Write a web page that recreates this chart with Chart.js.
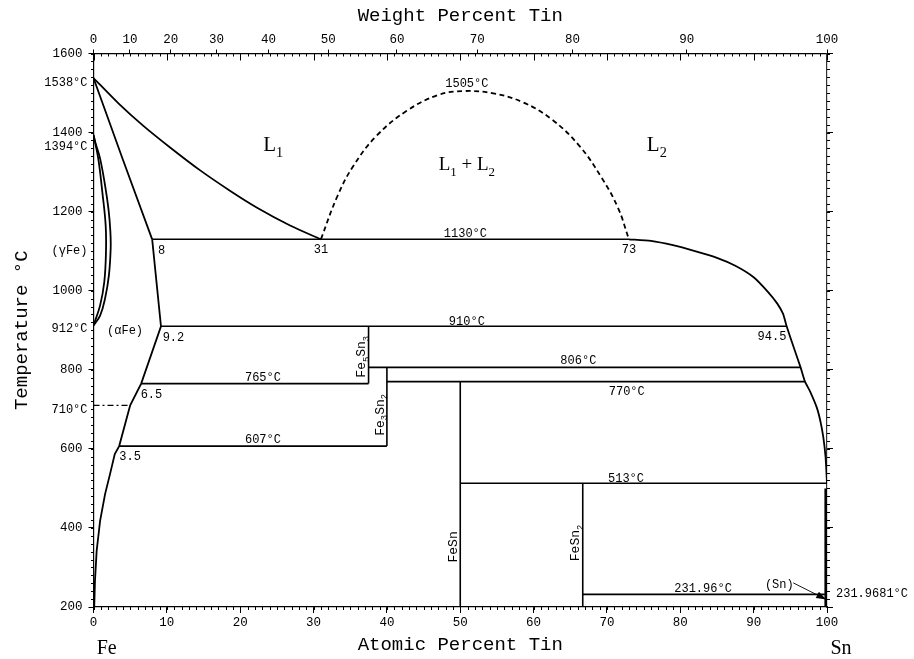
<!DOCTYPE html>
<html>
<head>
<meta charset="utf-8">
<title>Fe-Sn</title>
<script src="https://cdn.jsdelivr.net/npm/chart.js@4.4.1/dist/chart.umd.min.js"></script>
<style>
  html, body { margin: 0; padding: 0; background: #fff; }
  canvas { display: block; }
</style>
</head>
<body>
<canvas id="phase" width="914" height="659"></canvas>
<script>
// compositions in atomic percent Sn, temperatures in °C
const atomicTicks = [0, 10, 20, 30, 40, 50, 60, 70, 80, 90, 100];
const weightTicks = [0, 10, 20, 30, 40, 50, 60, 70, 80, 90, 100];
const tempTicks = [200, 400, 600, 800, 1000, 1200, 1400, 1600];

const liquidusFe = [[0, 1538], [3.4, 1474], [6.8, 1417], [10.4, 1363], [14.5, 1305], [18.6, 1253], [22.3, 1210], [26.8, 1165], [31, 1130]];
const solidusFe = [[0, 1538], [4, 1332], [8, 1130]];
const alphaBoundary = [[8, 1130], [9.2, 910], [6.5, 765], [5, 710], [3.5, 607], [2.9, 587], [2.25, 536], [1.57, 485], [0.9, 418], [0.43, 342], [0.2, 266], [0.1, 200]];
const gammaOuter = [[0, 1394], [0.3, 1372], [0.9, 1334], [1.57, 1267], [2.05, 1205], [2.3, 1150], [2.34, 1106], [2.1, 1039], [1.57, 980], [0.9, 937], [0, 912]];
const gammaInner = [[0, 1394], [0.65, 1334], [1.2, 1250], [1.66, 1165], [1.7, 1098], [1.47, 1022], [0.9, 963], [0, 912]];
const miscibilityGap = [[31, 1130], [33.2, 1237], [35.4, 1315], [38.6, 1392], [42.7, 1455], [47, 1495], [50.5, 1505], [54.5, 1499], [58.5, 1477], [62.5, 1433], [66.3, 1365], [69.3, 1285], [71.5, 1210], [73, 1130]];
const liquidusSn = [[73, 1130], [76, 1126], [79, 1115], [82, 1100], [85, 1083], [87.5, 1063], [90, 1034], [92, 996], [93.2, 968], [94, 942], [94.5, 910], [95.4, 860], [96.4, 806], [97, 770], [97.7, 745], [98.6, 705], [99.1, 670], [99.5, 629], [99.8, 580], [100, 513]];
const snSolid = [[99.85, 500], [99.85, 200]];
const magneticFe = [[0, 710], [5, 710]];

// isotherms: temperature, from, to
const isotherms = [[1130, 8, 73], [910, 9.2, 94.5], [806, 37.5, 96.4], [770, 40, 97], [765, 6.5, 37.5], [607, 3.5, 40], [513, 50, 100], [231.96, 66.7, 99.7]];
// line compounds: name, composition, upper and lower temperature
const compounds = [['Fe_5Sn_3', 37.5, 910, 765], ['Fe_3Sn_2', 40, 806, 607], ['FeSn', 50, 770, 200], ['FeSn_2', 66.7, 513, 200]];

const MONO = 'Liberation Mono';
const SERIF = 'Liberation Serif';

// weight percent Sn -> atomic percent Sn
const wtToAt = w => {
  const sn = w / 118.71, fe = (100 - w) / 55.845;
  return 100 * sn / (sn + fe);
};

const line = (pts, extra) => Object.assign({
  data: pts.map(([x, y]) => ({ x, y })),
  showLine: true,
  borderColor: '#000',
  borderWidth: 1.8,
  pointRadius: 0,
  tension: 0,
  fill: false,
  xAxisID: 'x',
  yAxisID: 'y'
}, extra);

const datasets = [
  line(liquidusFe, { tension: 0.25 }),
  line(solidusFe),
  line(alphaBoundary),
  line(gammaOuter, { tension: 0.4 }),
  line(gammaInner, { tension: 0.4 }),
  line(miscibilityGap, { tension: 0.4, borderDash: [5, 3.5] }),
  line(liquidusSn, { tension: 0.2 }),
  line(snSolid, { borderWidth: 3 }),
  line(magneticFe, { borderWidth: 1.3, borderDash: [6, 3, 2, 3] }),
  ...isotherms.map(([t, a, b]) => line([[a, t], [b, t]], { borderWidth: 1.6 })),
  ...compounds.map(([, c, top, bottom]) => line([[c, top], [c, bottom]], { borderWidth: 1.6 }))
];

// text with single-character subscripts written as _x
function drawRich(ctx, text, x, y, size, family, rot) {
  const parts = [];
  text.split(/(_.)/).forEach(p => {
    if (!p) return;
    if (p[0] === '_') parts.push([p.slice(1), true]);
    else parts.push([p, false]);
  });
  const sub = size * 0.68;
  ctx.save();
  ctx.translate(x, y);
  ctx.rotate(rot || 0);
  let w = 0;
  parts.forEach(([t, s]) => {
    ctx.font = `${s ? sub : size}px "${family}"`;
    w += ctx.measureText(t).width;
  });
  let cx = -w / 2;
  ctx.textAlign = 'left';
  ctx.textBaseline = 'alphabetic';
  ctx.fillStyle = '#000';
  parts.forEach(([t, s]) => {
    ctx.font = `${s ? sub : size}px "${family}"`;
    ctx.fillText(t, cx, size * 0.36 + (s ? size * 0.28 : 0));
    cx += ctx.measureText(t).width;
  });
  ctx.restore();
}

// small tick marks between the labelled ones
const minorTicks = {
  id: 'minorTicks',
  afterDraw(chart) {
    const { ctx, chartArea: a } = chart;
    const { x, y } = chart.scales;
    ctx.save();
    ctx.strokeStyle = '#000';
    ctx.lineWidth = 1;
    ctx.beginPath();
    for (let t = 200; t <= 1600; t += 20) {
      const py = Math.round(y.getPixelForValue(t)) + 0.5;
      ctx.moveTo(a.left, py); ctx.lineTo(a.left - 2.5, py);
      ctx.moveTo(a.right, py); ctx.lineTo(a.right + 3, py);
    }
    for (let v = 0; v <= 100; v++) {
      const px = Math.round(x.getPixelForValue(v)) + 0.5;
      ctx.moveTo(px, a.bottom); ctx.lineTo(px, a.bottom + 3);
      ctx.moveTo(px, a.top); ctx.lineTo(px, a.top + (v % 10 ? 3 : 7));
    }
    ctx.stroke();
    ctx.restore();
  }
};

// phase names, invariant temperatures and compositions
const phaseLabels = {
  id: 'phaseLabels',
  afterDraw(chart) {
    const { ctx, chartArea: a } = chart;
    const { x, y } = chart.scales;
    const X = v => x.getPixelForValue(v);
    const Y = v => y.getPixelForValue(v);

    const inPlot = [
      ['1505°C', 50.9, 1527], ['1130°C', 50.7, 1148], ['910°C', 50.9, 925],
      ['806°C', 66.1, 825], ['770°C', 72.7, 748], ['765°C', 23.1, 783],
      ['607°C', 23.1, 625], ['513°C', 72.6, 528], ['231.96°C', 83.1, 249],
      ['8', 9.3, 1105], ['31', 31, 1107], ['73', 73, 1107], ['9.2', 10.9, 885],
      ['94.5', 92.5, 887], ['6.5', 7.9, 740], ['3.5', 5.0, 583],
      ['(αFe)', 4.3, 901], ['(Sn)', 93.5, 258]
    ];
    inPlot.forEach(([t, vx, vy]) => drawRich(ctx, t, X(vx), Y(vy), 12, MONO));

    // labels beside the temperature axis
    ctx.save();
    ctx.font = `12px "${MONO}"`;
    ctx.fillStyle = '#000';
    ctx.textAlign = 'right';
    ctx.textBaseline = 'middle';
    [['1538°C', 1527], ['1394°C', 1364], ['(γFe)', 1102], ['912°C', 904], ['710°C', 699]]
      .forEach(([t, vy]) => ctx.fillText(t, a.left - 6, Y(vy)));
    ctx.textAlign = 'left';
    ctx.fillText('231.9681°C', a.right + 9, Y(234));
    ctx.restore();

    // compounds, written upwards beside their lines
    [['Fe_5Sn_3', 37.5, 833], ['Fe_3Sn_2', 40, 686], ['FeSn', 50, 352], ['FeSn_2', 66.7, 362]]
      .forEach(([t, c, vy]) => drawRich(ctx, t, X(c) - 8, Y(vy), 13, MONO, -Math.PI / 2));

    drawRich(ctx, 'L_1', X(24.5), Y(1372), 21, SERIF);
    drawRich(ctx, 'L_2', X(76.8), Y(1372), 21, SERIF);
    drawRich(ctx, 'L_1 + L_2', X(50.9), Y(1322), 19, SERIF);
    drawRich(ctx, 'Fe', X(1.8), chart.height - 12, 20, SERIF);
    drawRich(ctx, 'Sn', X(100) + 14, chart.height - 12, 20, SERIF);

    // pointer from (Sn) to the pure tin edge
    const x0 = X(95.4), y0 = Y(261), x1 = X(99.9), y1 = Y(219);
    const ang = Math.atan2(y1 - y0, x1 - x0);
    ctx.save();
    ctx.strokeStyle = '#000';
    ctx.fillStyle = '#000';
    ctx.lineWidth = 0.9;
    ctx.beginPath();
    ctx.moveTo(x0, y0);
    ctx.lineTo(x1, y1);
    ctx.stroke();
    ctx.beginPath();
    ctx.moveTo(x1, y1);
    ctx.lineTo(x1 - 10 * Math.cos(ang) + 3.5 * Math.sin(ang), y1 - 10 * Math.sin(ang) - 3.5 * Math.cos(ang));
    ctx.lineTo(x1 - 10 * Math.cos(ang) - 3.5 * Math.sin(ang), y1 - 10 * Math.sin(ang) + 3.5 * Math.cos(ang));
    ctx.closePath();
    ctx.fill();
    ctx.restore();
  }
};

const tickFont = { family: MONO, size: 12.5 };
const titleFont = { family: MONO, size: 19 };
const tickMarks = len => ({ drawOnChartArea: false, drawTicks: true, tickLength: len, tickColor: '#000', color: '#000', tickWidth: 1 });
const axisLine = { display: true, color: '#000', width: 1.2 };
const plain = v => String(v);

new Chart(document.getElementById('phase'), {
  type: 'scatter',
  data: { datasets },
  options: {
    responsive: false,
    devicePixelRatio: 1,
    animation: false,
    layout: { padding: 0 },
    plugins: { legend: { display: false }, tooltip: { enabled: false } },
    scales: {
      x: {
        type: 'linear', position: 'bottom', min: 0, max: 100,
        afterBuildTicks: s => { s.ticks = atomicTicks.map(v => ({ value: v })); },
        ticks: { font: tickFont, color: '#000', padding: 2, maxRotation: 0, autoSkip: false, callback: plain },
        grid: tickMarks(6),
        border: axisLine,
        title: { display: true, text: 'Atomic Percent Tin', font: titleFont, color: '#000', padding: { top: 0, bottom: 3 } },
        afterFit: s => { s.height = 52; }
      },
      x2: {
        type: 'linear', position: 'top', min: 0, max: 100,
        afterBuildTicks: s => { s.ticks = weightTicks.map(w => ({ value: wtToAt(w) })); },
        ticks: { font: tickFont, color: '#000', padding: 2, maxRotation: 0, autoSkip: false, callback: (v, i) => String(weightTicks[i]) },
        grid: tickMarks(4),
        border: axisLine,
        title: { display: true, text: 'Weight Percent Tin', font: titleFont, color: '#000', padding: { top: 5, bottom: 0 } },
        afterFit: s => { s.height = 53.5; }
      },
      y: {
        type: 'linear', position: 'left', min: 200, max: 1600,
        afterBuildTicks: s => { s.ticks = tempTicks.map(v => ({ value: v })); },
        ticks: { font: tickFont, color: '#000', padding: 6, autoSkip: false, callback: plain },
        grid: tickMarks(5),
        border: axisLine,
        title: { display: true, text: 'Temperature °C', font: titleFont, color: '#000', padding: { top: 11, bottom: 0 } },
        afterFit: s => { s.width = 93.5; }
      },
      y2: {
        type: 'linear', position: 'right', min: 200, max: 1600,
        afterBuildTicks: s => { s.ticks = tempTicks.map(v => ({ value: v })); },
        ticks: { display: false },
        grid: tickMarks(6),
        border: { display: true, color: '#333', width: 1.2 },
        afterFit: s => { s.width = 87; }
      }
    }
  },
  plugins: [minorTicks, phaseLabels]
});
</script>
</body>
</html>
